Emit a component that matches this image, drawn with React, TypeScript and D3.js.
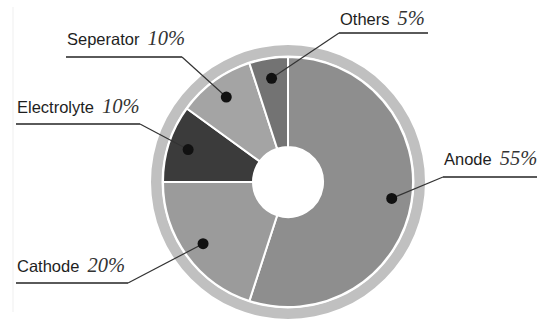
import React from 'react';
import * as d3 from 'd3';

// battery cost breakdown
const categories = ['Anode', 'Cathode', 'Electrolyte', 'Seperator', 'Others'];
const shares = [55, 20, 10, 10, 5];
const shareLabels = ['55%', '20%', '10%', '10%', '5%'];
const sliceColors = ['#8e8e8e', '#9b9b9b', '#3b3b3b', '#a4a4a4', '#737373'];

// label placement: underline from x0 to x1 at y, leader joins at the elbow end
const labelLayout = [
  { x0: 443, x1: 537, y: 177, ty: 165, elbow: 'left' },
  { x0: 16, x1: 128, y: 283, ty: 272, elbow: 'right' },
  { x0: 16, x1: 140, y: 124, ty: 113, elbow: 'right' },
  { x0: 66, x1: 182, y: 57, ty: 45, elbow: 'right' },
  { x0: 339, x1: 428, y: 33, ty: 25, elbow: 'left' },
];

const W = 544;
const H = 320;
const cx = 288;
const cy = 182;

const App: React.FC = () => {
  const pie = d3.pie<number>().sort(null).value(d => d);
  const arcs = pie(shares);

  const sliceArc = d3.arc<d3.PieArcDatum<number>>()
    .innerRadius(35)
    .outerRadius(125);

  const ring = d3.arc()({
    innerRadius: 126.5,
    outerRadius: 137,
    startAngle: 0,
    endAngle: Math.PI * 2,
  } as any);

  const dotRadius = 105;

  return (
    <svg width={W} height={H} style={{ position: 'absolute', left: 0, top: 0 }}>
      <rect width={W} height={H} fill="#ffffff" />
      <line x1={13} x2={13} y1={7} y2={312} stroke="#efefef" strokeWidth={1} />
      <g transform={`translate(${cx},${cy})`}>
        <path d={ring!} fill="#c0c0c0" />
        {arcs.map((a, i) => (
          <path key={i} d={sliceArc(a)!} fill={sliceColors[i]} stroke="#ffffff" strokeWidth={2} />
        ))}
      </g>
      {arcs.map((a, i) => {
        const mid = (a.startAngle + a.endAngle) / 2;
        const dx = cx + Math.sin(mid) * dotRadius;
        const dy = cy - Math.cos(mid) * dotRadius;
        const l = labelLayout[i];
        const ex = l.elbow === 'left' ? l.x0 : l.x1;
        return (
          <g key={categories[i]}>
            <line x1={dx} y1={dy} x2={ex} y2={l.y} stroke="#333333" strokeWidth={1.2} />
            <line x1={l.x0} y1={l.y} x2={l.x1} y2={l.y} stroke="#5a5a5a" strokeWidth={2} />
            <circle cx={dx} cy={dy} r={5.5} fill="#111111" />
            <text x={l.x0 + 1} y={l.ty} fill="#1e1e1e">
              <tspan fontFamily="'Liberation Sans', Arial, sans-serif" fontSize={16.5}>
                {categories[i]}
              </tspan>
              <tspan
                dx={8}
                fontFamily="'Liberation Serif', 'Times New Roman', serif"
                fontStyle="italic"
                fontSize={20.5}
                fill="#333333"
              >
                {shareLabels[i]}
              </tspan>
            </text>
          </g>
        );
      })}
    </svg>
  );
};

export default App;
